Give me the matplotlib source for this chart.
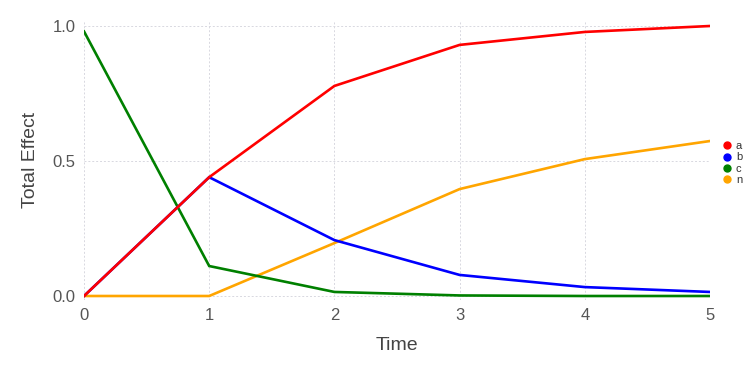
import matplotlib
matplotlib.use("Agg")
import matplotlib.pyplot as plt
from matplotlib.lines import Line2D

time = [0, 1, 2, 3, 4, 5]
a = [0.0, 0.44, 0.778, 0.93, 0.978, 1.0]
b = [0.0, 0.44, 0.207, 0.078, 0.033, 0.015]
c = [0.98, 0.111, 0.015, 0.002, 0.0, 0.0]
n = [0.0, 0.0, 0.196, 0.396, 0.507, 0.574]
names = ["a", "b", "c", "n"]
colors = {"a": "#ff0000", "b": "#0000ff", "c": "#008000", "n": "#ffa500"}
series = {"a": a, "b": b, "c": c, "n": n}

plt.rcParams['font.family'] = ['Liberation Sans', 'DejaVu Sans']
fig = plt.figure(figsize=(7.56, 3.78), dpi=100)
ax = fig.add_axes([84/756, 1-300/378, (710-84)/756, 280/378])

for k in ["n", "c", "b", "a"]:
    ax.plot(time, series[k], color=colors[k], lw=1.9, solid_joinstyle='miter')

ax.set_xlim(0, 5)
ax.set_ylim(-4/270, 1 + 6/270)
ax.set_xticks(time)
ax.set_yticks([0.0, 0.5, 1.0])
ax.set_yticklabels(["0.0", "0.5", "1.0"])
ax.grid(True, color='#d8d8e0', linestyle=(0, (2, 2)), linewidth=0.7)
ax.set_axisbelow(True)
for s in ax.spines.values():
    s.set_visible(False)
ax.tick_params(length=0, labelsize=12, colors='#555555', pad=6)
ax.set_xlabel("Time", fontsize=14, color='#444444', labelpad=10)
ax.set_ylabel("Total Effect", fontsize=14, color='#444444', labelpad=10)

handles = [Line2D([], [], marker='o', linestyle='', color=colors[k], markersize=5) for k in names]
leg = fig.legend(handles, names, loc='center left', bbox_to_anchor=(716/756, 1-163/378),
                 frameon=False, fontsize=8, handletextpad=0.3, labelspacing=0.1,
                 handlelength=1.0, borderpad=0)
for t in leg.get_texts():
    t.set_color('#333333')

fig.savefig("out.png", dpi=100)
